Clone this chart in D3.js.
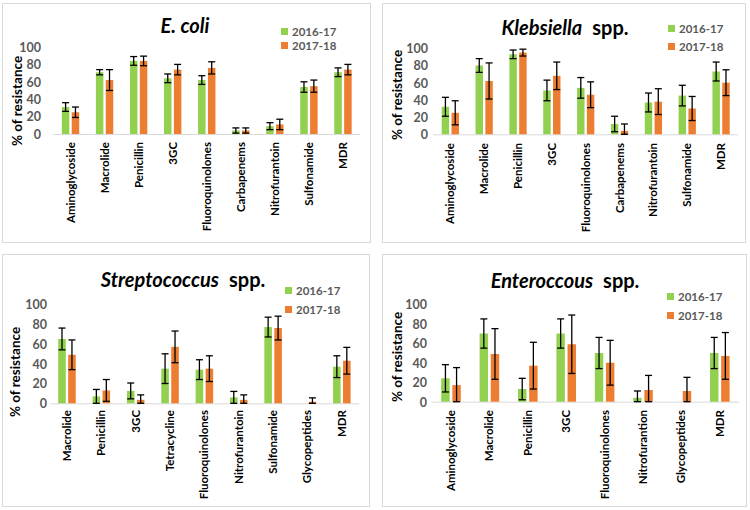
<!DOCTYPE html>
<html><head><meta charset="utf-8">
<script src="https://cdn.jsdelivr.net/npm/d3@7"></script>
<style>body{margin:0;background:#fff}svg{display:block}text{font-family:Lato,"Open Sans",sans-serif}</style>
</head><body><svg id="c" width="750" height="510"></svg>
<script>
const seriesNames = ["2016-17", "2017-18"];
const yTicks = [0, 20, 40, 60, 80, 100];

const ecoliCategories = ["Aminoglycoside","Macrolide","Penicillin","3GC","Fluoroquinolones","Carbapenems","Nitrofurantoin","Sulfonamide","MDR"];
const ecoli2016 = [31, 71, 84, 64, 62, 4, 9, 54, 71];
const ecoli2016Err = [5, 3, 5, 5, 5, 3, 4, 6, 5];
const ecoli2017 = [25, 62, 84, 74, 76, 4, 11, 55, 74];
const ecoli2017Err = [6, 12, 5.5, 6, 7, 3, 6, 7, 6];

const klebCategories = ["Aminoglycoside","Macrolide","Penicillin","3GC","Fluoroquinolones","Carbapenems","Nitrofurantoin","Sulfonamide","MDR"];
const kleb2016 = [32, 80, 93, 51, 54, 12, 37, 45, 73];
const kleb2016Err = [11, 8, 5, 12, 12, 9, 11, 12, 11];
const kleb2017 = [25, 62, 95, 68, 46, 4, 38, 30, 60];
const kleb2017Err = [14, 21, 4, 16, 15, 8, 15, 14, 15];

const strepCategories = ["Macrolide","Penicillin","3GC","Tetracycline","Fluoroquinolones","Nitrofurantoin","Sulfonamide","Glycopeptides","MDR"];
const strep2016 = [65, 7, 12.5, 35, 34, 6, 77, 0, 37];
const strep2016Err = [11, 7, 8, 15, 10, 6, 10, 0, 11];
const strep2017 = [49, 13, 3.5, 57, 35, 3.5, 76, 1.5, 43];
const strep2017Err = [15, 11, 5, 16, 13, 5, 12, 4, 13.5];

const enteroCategories = ["Aminoglycoside","Macrolide","Penicillin","3GC","Fluoroquinolones","Nitrofurantion","Glycopeptides","MDR"];
const entero2016 = [24, 70, 13, 70, 50, 4, 0, 50];
const entero2016Err = [14, 15, 11, 15, 16, 7, 0, 16];
const entero2017 = [17, 49, 37, 59, 40, 12, 11, 47];
const entero2017Err = [18, 26, 24, 30, 23, 15, 14, 24];

const colors = ["#92d050", "#ed7d31"];

const panels = [
  {italic:"E. coli", rest:"", cats:ecoliCategories, v:[ecoli2016,ecoli2017], e:[ecoli2016Err,ecoli2017Err],
   box:[2,3,368,239], x0:53.5, x1:360, yb:134, yt:47, tickR:41, axX:17, axY:101, labTop:142,
   title:[185,33], leg:[281,28,42]},
  {italic:"Klebsiella", rest:"spp.", cats:klebCategories, v:[kleb2016,kleb2017], e:[kleb2016Err,kleb2017Err],
   box:[382,3,363,239], x0:433.4, x1:738, yb:134.3, yt:48.3, tickR:428, axX:397, axY:95, labTop:143,
   title:[565,35], leg:[668,25,43]},
  {italic:"Streptococcus", rest:"spp.", cats:strepCategories, v:[strep2016,strep2017], e:[strep2016Err,strep2017Err],
   box:[2,254,367,252], x0:49.8, x1:359, yb:403.3, yt:304.3, tickR:47, axX:15, axY:372, labTop:410,
   title:[183,287], leg:[285,287,306]},
  {italic:"Enteroccous", rest:"spp.", cats:enteroCategories, v:[entero2016,entero2017], e:[entero2016Err,entero2017Err],
   box:[382,254,364,252], x0:431.8, x1:739, yb:401.7, yt:304.3, tickR:427, axX:397, axY:357, labTop:410,
   title:[565,288], leg:[667,293,312]}
];

const svg = d3.select("#c");

panels.forEach(p => {
  const g = svg.append("g");
  g.append("rect").attr("x", p.box[0]+0.5).attr("y", p.box[1]+0.5)
    .attr("width", p.box[2]).attr("height", p.box[3])
    .attr("fill", "#fff").attr("stroke", "#d9d9d9").attr("stroke-width", 1);

  const x = d3.scaleBand().domain(p.cats).range([p.x0, p.x1]);
  const y = d3.scaleLinear().domain([0, 100]).range([p.yb, p.yt]);
  const bw = x.bandwidth();
  const barW = bw * 0.22, gap = bw * 0.07;
  const off = [bw/2 - gap/2 - barW, bw/2 + gap/2];

  // y tick labels
  const yAxis = d3.axisLeft(y).tickValues(yTicks).tickSize(0).tickPadding(0);
  const ya = g.append("g").attr("transform", `translate(${p.tickR},0)`).call(yAxis);
  ya.select(".domain").remove();
  ya.selectAll("text").attr("fill", "#595959").style("font-size", "12.5px").style("font-weight", "bold").attr("dy", "0.35em");

  // x axis line
  g.append("line").attr("x1", p.x0).attr("x2", p.x1).attr("y1", p.yb + 0.5).attr("y2", p.yb + 0.5)
    .attr("stroke", "#d9d9d9").attr("stroke-width", 1);

  // bars & error bars
  [0, 1].forEach(s => {
    p.cats.forEach((c, i) => {
      const val = p.v[s][i], err = p.e[s][i];
      const bx = x(c) + off[s];
      if (val > 0) {
        g.append("rect").attr("x", bx).attr("y", y(val)).attr("width", barW)
          .attr("height", y(0) - y(val)).attr("fill", colors[s]);
      }
      if (err > 0) {
        const cx = bx + barW / 2;
        const hi = y(val + err), lo = y(Math.max(0, val - err));
        const eg = g.append("g").attr("stroke", "#000").attr("stroke-width", 1.3);
        eg.append("line").attr("x1", cx).attr("x2", cx).attr("y1", hi).attr("y2", lo);
        eg.append("line").attr("x1", cx - 3.5).attr("x2", cx + 3.5).attr("y1", hi).attr("y2", hi);
        eg.append("line").attr("x1", cx - 3.5).attr("x2", cx + 3.5).attr("y1", lo).attr("y2", lo);
      }
    });
  });

  // x labels (rotated)
  const xAxis = d3.axisBottom(x).tickSize(0).tickPadding(0);
  const xa = g.append("g").attr("transform", `translate(0,${p.labTop})`).call(xAxis);
  xa.select(".domain").remove();
  xa.selectAll("text")
    .attr("transform", "rotate(-90)").attr("text-anchor", "end")
    .attr("x", 0).attr("y", 0).attr("dy", "0.35em")
    .attr("fill", "#000").style("font-size", "11.5px").style("font-weight", "bold");

  // y axis title
  g.append("text").attr("transform", `translate(${p.axX},${p.axY}) rotate(-90)`)
    .attr("text-anchor", "middle").attr("dy", "0.35em")
    .style("font-size", "13.5px").style("font-weight", "bold").attr("fill", "#000")
    .text("% of resistance");

  // title
  const t = g.append("text").attr("x", p.title[0]).attr("y", p.title[1]).attr("text-anchor", "middle")
    .style("font-size", "20px").style("font-weight", "bold").attr("fill", "#000");
  t.append("tspan").style("font-style", "italic").text(p.italic);
  if (p.rest) t.append("tspan").attr("dx", 10).text(p.rest);

  // legend
  seriesNames.forEach((n, s) => {
    const ly = p.leg[1 + s];
    g.append("rect").attr("x", p.leg[0]).attr("y", ly).attr("width", 7).attr("height", 7).attr("fill", colors[s]);
    g.append("text").attr("x", p.leg[0] + 11).attr("y", ly + 3.5).attr("dy", "0.35em")
      .style("font-size", "11.5px").style("font-weight", "bold").attr("fill", "#595959").text(n);
  });
});
</script></body></html>
